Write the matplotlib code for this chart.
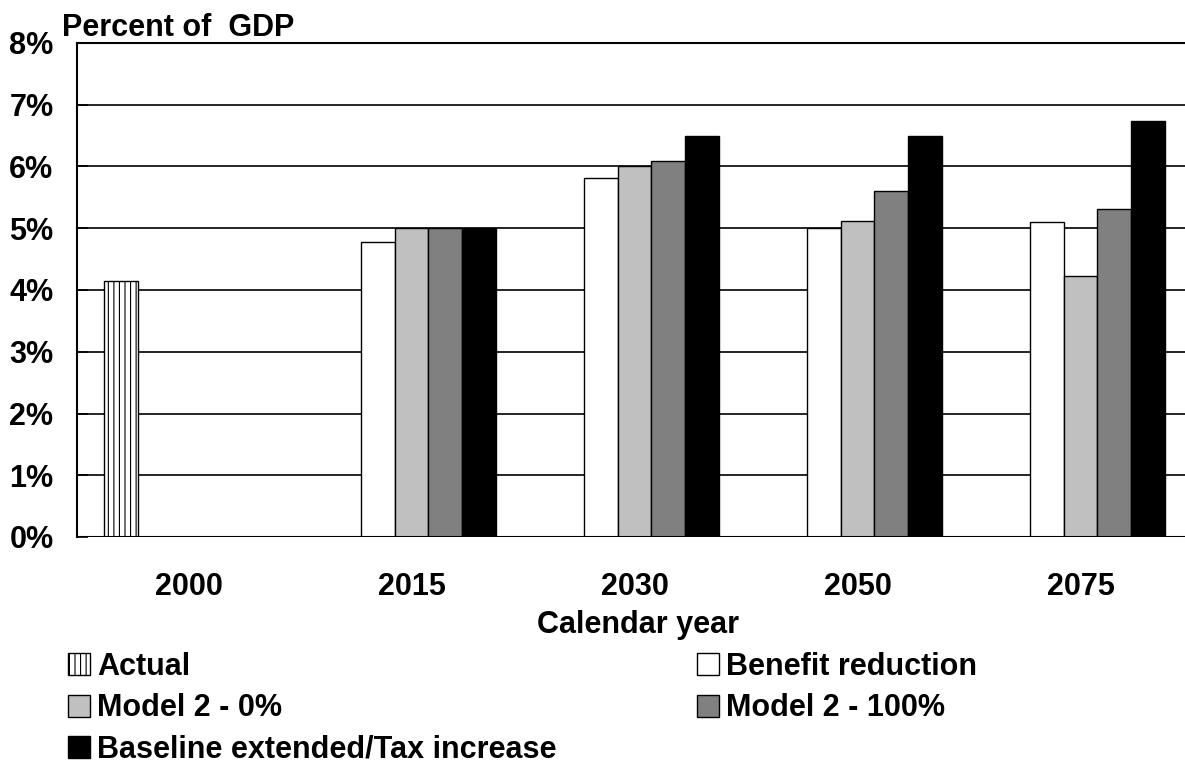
import matplotlib
matplotlib.use('Agg')
import matplotlib.pyplot as plt
import numpy as np

plt.rcParams['font.family'] = ['Liberation Sans', 'DejaVu Sans']
plt.rcParams['font.weight'] = 'bold'
plt.rcParams['hatch.linewidth'] = 0.8

years = ['2000', '2015', '2030', '2050', '2075']
actual = [4.15, 0, 0, 0, 0]
benefit_reduction = [0, 4.78, 5.82, 5.0, 5.1]
model2_0 = [0, 5.0, 6.0, 5.11, 4.22]
model2_100 = [0, 5.0, 6.09, 5.6, 5.31]
baseline = [0, 5.0, 6.5, 6.5, 6.73]

series = [
    ('Actual', actual, 'white', '|||'),
    ('Benefit reduction', benefit_reduction, 'white', None),
    ('Model 2 - 0%', model2_0, '#c0c0c0', None),
    ('Model 2 - 100%', model2_100, '#808080', None),
    ('Baseline extended/Tax increase', baseline, 'black', None),
]


def main():
    fig = plt.figure(figsize=(11.85, 7.71), dpi=100)
    # plot area runs slightly past the right edge, like the original
    ax = fig.add_axes([77 / 1185, 1 - 537 / 771, 1115 / 1185, 494 / 771])

    x = np.arange(len(years))
    w = 0.152
    handles = []
    for i, (name, vals, color, hatch) in enumerate(series):
        b = ax.bar(x + (i - 2) * w, vals, w, color=color, edgecolor='black',
                   linewidth=1.0, hatch=hatch, label=name, zorder=3)
        handles.append(b)

    ax.set_xlim(-0.5, 4.5)
    ax.set_ylim(0, 8)
    ax.set_yticks(range(9))
    ax.set_yticklabels([f'{v}%' for v in range(9)], fontsize=22, fontweight='bold')
    ax.set_xticks(x)
    ax.set_xticklabels(years, fontsize=22, fontweight='bold')
    ax.tick_params(axis='x', length=0, pad=25)
    ax.tick_params(axis='y', direction='in', length=8, width=1.2, pad=17)
    ax.grid(axis='y', color='black', linewidth=1.2, zorder=0)
    ax.set_axisbelow(True)
    for s in ['right', 'bottom']:
        ax.spines[s].set_visible(False)
    ax.spines['top'].set_linewidth(1.5)
    ax.spines['left'].set_linewidth(1.5)
    ax.axhline(0, color='black', linewidth=1.5, zorder=4)

    fig.text(62 / 1185, 1 - 36 / 771, 'Percent of  GDP', fontsize=22,
             fontweight='bold', va='baseline', ha='left')
    fig.text(638 / 1185, 1 - 633 / 771, 'Calendar year', fontsize=22,
             fontweight='bold', va='baseline', ha='center')

    order = [0, 2, 4, 1, 3]
    fig.legend([handles[i] for i in order], [series[i][0] for i in order],
               ncol=2, loc='upper left', bbox_to_anchor=(68 / 1185, 1 - 652 / 771),
               frameon=False, prop={'weight': 'bold', 'size': 22},
               handlelength=0.72, handleheight=0.72, handletextpad=0.23,
               columnspacing=4.6, labelspacing=0.37, borderaxespad=0,
               borderpad=0)

    fig.savefig('out.png', dpi=100)


if __name__ == '__main__':
    main()
